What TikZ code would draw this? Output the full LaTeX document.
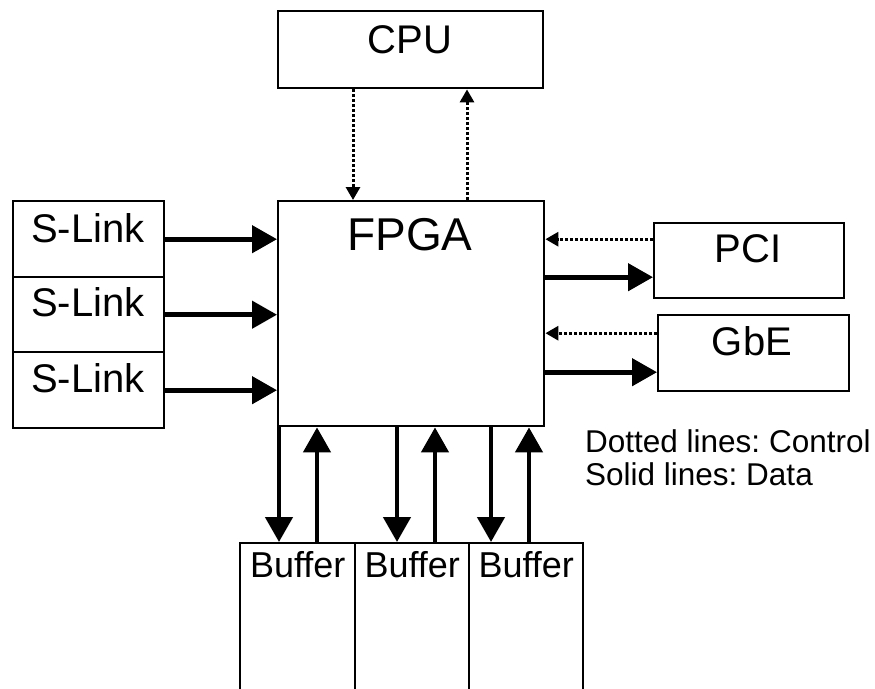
\documentclass[tikz,border=0pt]{standalone}
\usepackage{fontspec}
\setmainfont{Liberation Sans}
\usepackage{tikz}
\usetikzlibrary{arrows.meta,calc,positioning}
\newcommand{\fsz}[1]{\fontsize{#1}{#1}\selectfont}
\frenchspacing

\begin{document}
\begin{tikzpicture}[
    x=1pt, y=-1pt,
    box/.style={draw=black, line width=2.4pt, inner sep=0pt, anchor=north west},
    lab/.style={anchor=base, inner sep=0pt, font=\fsz{40}},
    data/.style={line width=4.6pt, -{Triangle[length=25pt,width=27pt]}},
    ctrl/.style={line width=3pt, dash pattern=on 3pt off 2pt, -{Triangle[length=13pt,width=14pt]}}
]
\useasboundingbox (0,0) rectangle (875,688);

% main boxes
\node[box, minimum width=265pt, minimum height=77pt]  (cpu)  at (277,10)  {};
\node[box, minimum width=266pt, minimum height=225pt] (fpga) at (277,200) {};
\node[lab] (cpulab)  at (410,53)  {CPU};
\node[lab, font=\fsz{46}] (fpgalab) at (410,250) {FPGA};

% S-Link inputs
\node[box, minimum width=151pt, minimum height=76pt] (sl1) at (12,200) {};
\node[box, minimum width=151pt, minimum height=75pt] (sl2) at (12,276) {};
\node[box, minimum width=151pt, minimum height=76pt] (sl3) at (12,351) {};
\node[lab] (sl1lab) at (88,242) {S-Link};
\node[lab] (sl2lab) at (88,316) {S-Link};
\node[lab] (sl3lab) at (88,392) {S-Link};

% PCI and GbE
\node[box, minimum width=190pt, minimum height=75pt] (pci) at (653,222) {};
\node[box, minimum width=191pt, minimum height=76pt] (gbe) at (657,314) {};
\node[lab] (pcilab) at (748,262) {PCI};
\node[lab] (gbelab) at (752,355) {GbE};

% buffers (open at the bottom edge)
\node[box, minimum width=115pt, minimum height=170pt] (buf1) at (239,542) {};
\node[box, minimum width=114pt, minimum height=170pt] (buf2) at (354,542) {};
\node[box, minimum width=114pt, minimum height=170pt] (buf3) at (468,542) {};
\node[lab, font=\fsz{36}] (buf1lab) at ([yshift=-35pt]buf1.north) {Buffer};
\node[lab, font=\fsz{36}] (buf2lab) at ([yshift=-35pt]buf2.north) {Buffer};
\node[lab, font=\fsz{36}] (buf3lab) at ([yshift=-35pt]buf3.north) {Buffer};

% ports on the right-hand boxes
\coordinate (pcic) at ([yshift=21.5pt]pci.west);
\coordinate (pcid) at ([yshift=-16.5pt]pci.west);
\coordinate (gbec) at ([yshift=20pt]gbe.west);
\coordinate (gbed) at ([yshift=-19pt]gbe.west);

% control lines
\draw[ctrl] ([xshift=76pt]cpu.south west) -- ([xshift=76pt]fpga.north west);
\draw[ctrl] ([xshift=190pt]fpga.north west) -- ([xshift=190pt]cpu.south west);
\draw[ctrl] (pcic) -- (fpga.east |- pcic);
\draw[ctrl] (gbec) -- (fpga.east |- gbec);

% data lines
\draw[data] (sl1.east) -- (fpga.west |- sl1.east);
\draw[data] (sl2.east) -- (fpga.west |- sl2.east);
\draw[data] (sl3.east) -- (fpga.west |- sl3.east);
\draw[data] (fpga.east |- pcid) -- (pcid);
\draw[data] (fpga.east |- gbed) -- (gbed);

\coordinate (dn1) at ([xshift=40pt]buf1.north west);
\coordinate (up1) at ([xshift=78pt]buf1.north west);
\coordinate (dn2) at ([xshift=43pt]buf2.north west);
\coordinate (up2) at ([xshift=81pt]buf2.north west);
\coordinate (dn3) at ([xshift=23pt]buf3.north west);
\coordinate (up3) at ([xshift=61pt]buf3.north west);
\foreach \i in {1,2,3}{
  \draw[data] (fpga.south -| dn\i) -- (dn\i);
  \draw[data] (up\i) -- (fpga.south -| up\i);
}

% legend
\node[lab, anchor=base west, font=\fsz{31.5}] (leg1) at (585,452) {Dotted lines: Control};
\node[lab, anchor=base west, font=\fsz{31.5}] (leg2) at (585,485) {Solid lines: Data};
\end{tikzpicture}
\end{document}
